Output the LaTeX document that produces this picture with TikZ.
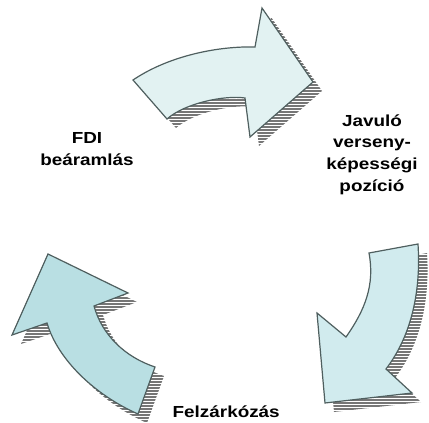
\documentclass[tikz,border=0pt]{standalone}
\usepackage{fontspec}
\setmainfont{Liberation Sans}[FakeStretch=1.18]
\usetikzlibrary{positioning}

\definecolor{korvonal}{HTML}{4F5F5F}
\definecolor{halvany}{HTML}{E2F2F2}
\definecolor{kozepes}{HTML}{D1EBEE}
\definecolor{eros}{HTML}{B9DFE3}
\definecolor{csikszin}{HTML}{767676}

% nyilak korvonalai
\newcommand{\felsonyil}{(133,80) .. controls (170,55) and (220,46) .. (255,47) -- (262,8) -- (313,82) -- (250,137) -- (245,98) .. controls (225,95) and (185,103) .. (167,119) -- cycle}
\newcommand{\jobbnyil}{(369,253) -- (418,244) .. controls (421,290) and (412,335) .. (386,369) -- (412,393) -- (325,403) -- (317,313) -- (346,337) .. controls (365,310) and (375,285) .. (369,253) -- cycle}
\newcommand{\balnyil}{(48,254) -- (128,293) -- (94,306) .. controls (102,335) and (125,357) .. (155,367) -- (138,414) .. controls (95,395) and (58,360) .. (47,323) -- (12,335) -- cycle}

\begin{document}
\begin{tikzpicture}[x=1pt,y=-1pt]
            % Stílusok
            \tikzstyle{nyil}=[draw=korvonal, line width=1.2pt, line join=miter]
            \tikzstyle{csik}=[draw=csikszin, line width=2.2pt]
            \tikzstyle{felirat}=[font=\fontsize{16}{21.7}\selectfont\bfseries, align=center, inner sep=0pt]

            \useasboundingbox (0,0) rectangle (429,423);

            % Árnyékok
            \foreach \alak in {\felsonyil,\jobbnyil,\balnyil} {
              \begin{scope}
                \clip[shift={(9,9)}] \alak;
                \foreach \y in {1,4,...,423} \draw[csik] (0,\y) -- (429,\y);
              \end{scope}
            }

            % Nyilak
            \path[nyil, fill=halvany] \felsonyil;
            \path[nyil, fill=kozepes] \jobbnyil;
            \path[nyil, fill=eros] \balnyil;

            % Feliratok
            \node[felirat] (fdi) at (87,149) {FDI\\beáramlás};
            \node[felirat] (javulo) at (372,154.5) {Javuló\\verseny-\\képességi\\pozíció};
            \node[felirat, anchor=base west] (felzarkozas) at (172.5,417) {Felzárkózás};
\end{tikzpicture}
\end{document}
